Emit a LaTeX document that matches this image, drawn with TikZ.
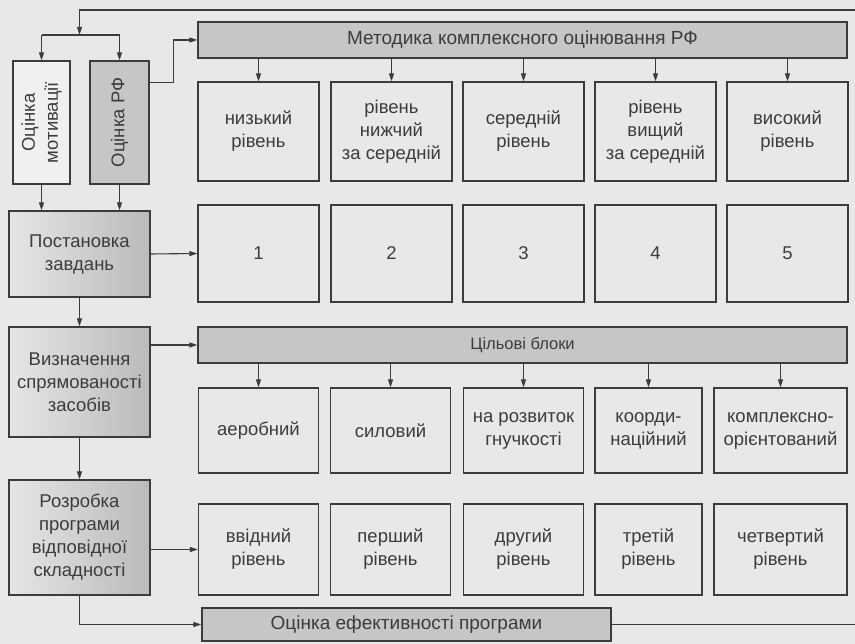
\documentclass[tikz,border=0pt]{standalone}
\usepackage{fontspec}
\setmainfont{Liberation Sans}
\usetikzlibrary{arrows.meta,positioning,calc}
\definecolor{paper}{HTML}{E8E8EA}
\definecolor{ink}{HTML}{3C3C3C}
\definecolor{barfill}{HTML}{C6C6C8}

\begin{document}
\begin{tikzpicture}[
  x=1pt,y=-1pt,
  font=\fontsize{18.5}{23}\selectfont,
  every node/.style={text=ink},
  box/.style={draw=ink,line width=1.3pt,fill=paper,inner sep=0pt,align=center},
  bar/.style={box,fill=barfill,minimum height=36pt,minimum width=649pt},
  side/.style={box,left color=black!10,right color=black!27,minimum width=141pt},
  ar/.style={draw=ink,line width=1.1pt,-{Triangle[length=8pt,width=5pt]}},
  ln/.style={draw=ink,line width=1.1pt}
]
\fill[paper] (0,0) rectangle (855,644);
\useasboundingbox (0,0) rectangle (855,644);

% left column (upright boxes turned on their side)
\node[box,fill=black!6,rotate=90,minimum width=123pt,minimum height=57pt] (mot) at (41.5,122.5)
  {Оцінка\\мотивації};
\node[box,fill=barfill,rotate=90,minimum width=123pt,minimum height=59pt] (rf) at (119.5,122.5)
  {Оцінка РФ};
\node[side,minimum height=86pt] (post) at (79.5,254) {Постановка\\завдань};
\node[side,minimum height=110pt] (vyz) at (79.5,382) {Визначення\\спрямованості\\засобів};
\node[side,minimum height=115pt] (rozr) at (79.5,537.5) {Розробка\\програми\\відповідної\\складності};

% bars
\node[bar,font=\fontsize{19}{22}\selectfont] (met) at (522.5,40) {Методика комплексного оцінювання РФ};
\node[bar,font=\fontsize{16.5}{20}\selectfont] (tb) at (522.5,345) {Цільові блоки};
\node[box,fill=barfill,minimum width=409pt,minimum height=33pt,font=\fontsize{19}{22}\selectfont] (eval) at (406.5,624.5)
  {Оцінка ефективності програми};

% levels of physical condition
\node[box,minimum width=121pt,minimum height=99pt] (l1) at (258.5,131.5) {низький\\рівень};
\node[box,minimum width=121pt,minimum height=99pt] (l2) at (391.5,131.5) {рівень\\нижчий\\за середній};
\node[box,minimum width=121pt,minimum height=99pt] (l3) at (523.5,131.5) {середній\\рівень};
\node[box,minimum width=121pt,minimum height=99pt] (l4) at (655.5,131.5) {рівень\\вищий\\за середній};
\node[box,minimum width=121pt,minimum height=99pt] (l5) at (787.5,131.5) {високий\\рівень};

\node[box,minimum width=121pt,minimum height=97pt] (n1) at (258.5,253.5) {1};
\node[box,minimum width=121pt,minimum height=97pt] (n2) at (391.5,253.5) {2};
\node[box,minimum width=121pt,minimum height=97pt] (n3) at (523.5,253.5) {3};
\node[box,minimum width=121pt,minimum height=97pt] (n4) at (655.5,253.5) {4};
\node[box,minimum width=121pt,minimum height=97pt] (n5) at (787.5,253.5) {5};

% target blocks
\node[box,minimum width=120pt,minimum height=85pt] (t1) at (258.5,430.5) {аеробний};
\node[box,minimum width=120pt,minimum height=85pt] (t2) at (390.5,430.5) {силовий};
\node[box,minimum width=120pt,minimum height=85pt] (t3) at (523.5,430.5) {на розвиток\\гнучкості};
\node[box,minimum width=107pt,minimum height=85pt] (t4) at (648.5,430.5) {коорди-\\наційний};
\node[box,minimum width=133pt,minimum height=85pt] (t5) at (780.5,430.5) {комплексно-\\орієнтований};

% program levels
\node[box,minimum width=120pt,minimum height=91pt] (v1) at (258.5,549.5) {ввідний\\рівень};
\node[box,minimum width=120pt,minimum height=91pt] (v2) at (390.5,549.5) {перший\\рівень};
\node[box,minimum width=120pt,minimum height=91pt] (v3) at (523.5,549.5) {другий\\рівень};
\node[box,minimum width=107pt,minimum height=91pt] (v4) at (648.5,549.5) {третій\\рівень};
\node[box,minimum width=133pt,minimum height=91pt] (v5) at (780.5,549.5) {четвертий\\рівень};

% feedback loop
\coordinate (fb) at (79.5,35);
\coordinate (loop) at (880,10);
\draw[ln] (eval.east) -| (loop);
\draw[ar] (loop) -| (fb);
\draw[ln] (mot.east |- fb) -- (rf.east |- fb);
\draw[ar] (mot.east |- fb) -- (mot.east);
\draw[ar] (rf.east |- fb) -- (rf.east);

\draw[ar] (mot.west) -- (mot.west |- post.north);
\draw[ar] (rf.west) -- (rf.west |- post.north);
\draw[ar] ([yshift=-22pt]rf.south east) -- ++(24,0) |- (met.west);
\draw[ar] (post.east) -- (n1.west);
\draw[ar] (post) -- (vyz);
\draw[ar] (vyz.east |- tb.west) -- (tb.west);
\draw[ar] (vyz) -- (rozr);
\draw[ar] (rozr.east |- v1.west) -- (v1.west);
\draw[ar] (rozr.south) |- (eval.west);

\draw[ar] (met.south -| l1) -- (l1);
\draw[ar] (met.south -| l2) -- (l2);
\draw[ar] (met.south -| l3) -- (l3);
\draw[ar] (met.south -| l4) -- (l4);
\draw[ar] (met.south -| l5) -- (l5);

\draw[ar] (tb.south -| t1) -- (t1);
\draw[ar] (tb.south -| t2) -- (t2);
\draw[ar] (tb.south -| t3) -- (t3);
\draw[ar] (tb.south -| t4) -- (t4);
\draw[ar] (tb.south -| t5) -- (t5);
\end{tikzpicture}
\end{document}
